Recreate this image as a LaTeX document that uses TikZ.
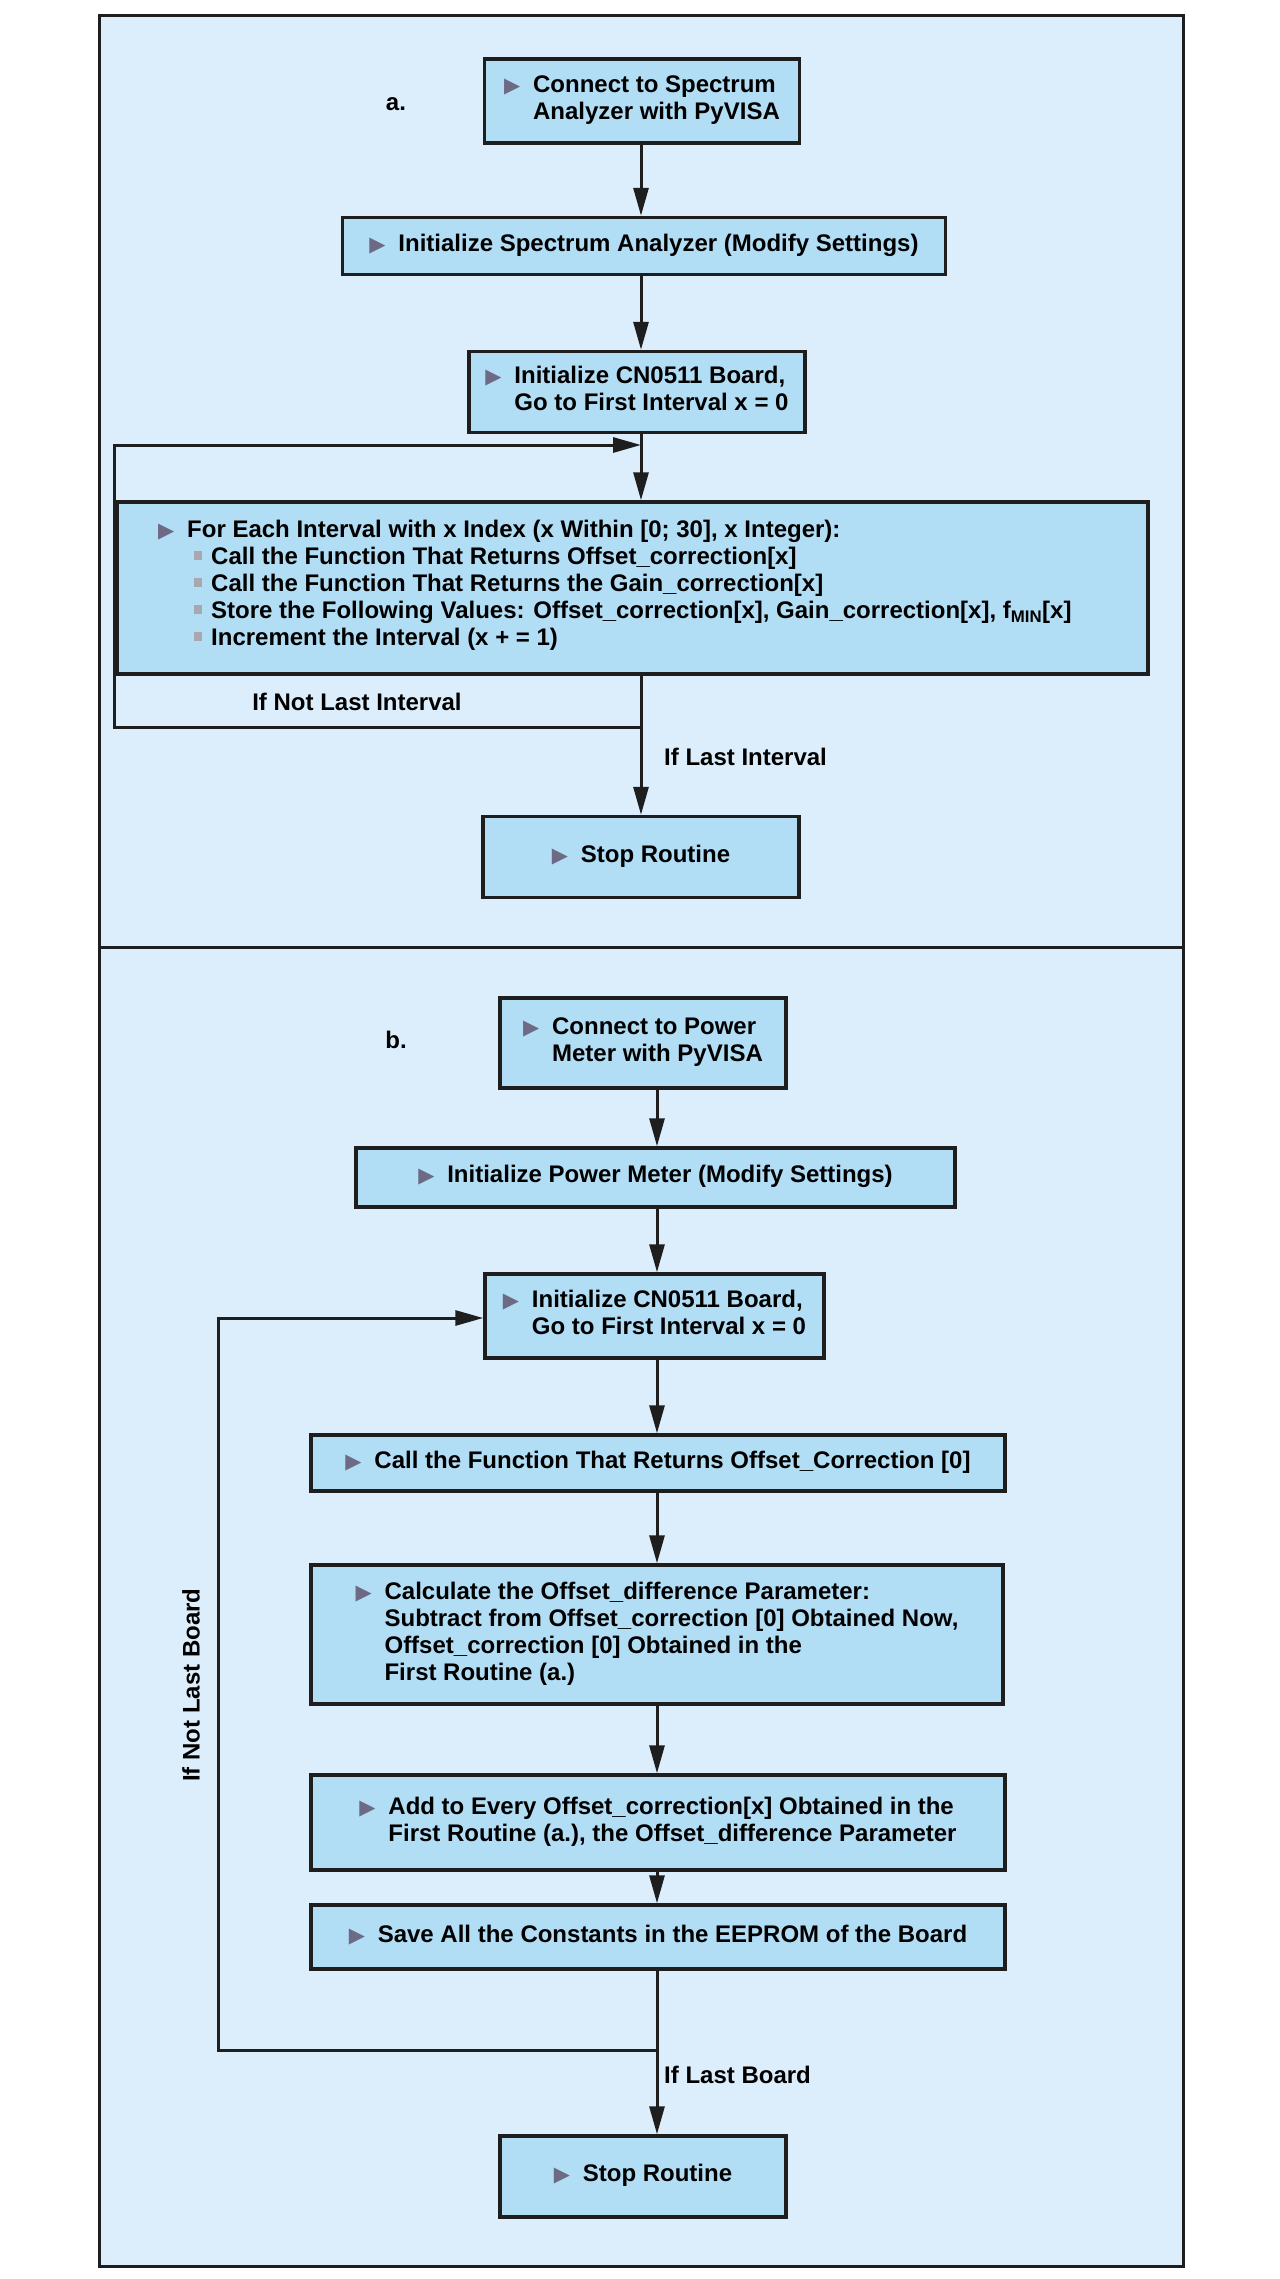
\documentclass[tikz,border=0pt]{standalone}
\usepackage{fontspec}
\setmainfont{Liberation Sans}
\newfontfamily\symf{DejaVu Sans}
\usetikzlibrary{arrows.meta}
\definecolor{bgc}{HTML}{DCEEFB}
\definecolor{boxc}{HTML}{B1DDF5}
\definecolor{linec}{HTML}{1E1E1E}
\definecolor{tric}{HTML}{6C6A84}
\definecolor{sqc}{HTML}{A8A8B0}
\newcommand{\tri}{\makebox[29pt][l]{\raisebox{0pt}{\textcolor{tric}{\symf\fontsize{21}{21}\selectfont ▶}}}}
\newcommand{\sqb}{\makebox[17pt][l]{\textcolor{sqc}{\rule[4pt]{8pt}{9pt}}}}
\newcommand{\items}[1]{\tri\begin{tabular}[t]{@{}l@{}}#1\end{tabular}}
\tikzset{
  fbox/.style={draw=linec, line width=3.5pt, fill=boxc, inner sep=0pt, text=black,
    font=\fontsize{24}{27}\selectfont\bfseries},
  txt/.style={inner sep=0pt, text=black, font=\fontsize{24}{27}\selectfont\bfseries},
  ln/.style={draw=linec, line width=3pt},
  arr/.style={draw=linec, line width=3pt, -{Triangle[length=28pt,width=15pt]}}
}
\begin{document}
\begin{tikzpicture}[x=1pt,y=-1pt]
\useasboundingbox[fill=white] (0,0) rectangle (1280,2279);
% frame
\draw[fill=bgc, draw=linec, line width=3pt] (99,15) rectangle (1183,2266);
\draw[ln] (99,947) -- (1183,947);
\coordinate (ta) at (641,0);
\coordinate (tb) at (657,0);
% ---------- part a ----------
\node[txt] (alab) at (396,104) {a.};
\node[fbox, minimum width=315pt, minimum height=84pt] (A1) at (642,101)
  {\items{Connect to Spectrum\\Analyzer with PyVISA}};
\node[fbox, minimum width=603pt, minimum height=57pt] (A2) at (644,246)
  {\items{Initialize Spectrum Analyzer (Modify Settings)}};
\node[fbox, minimum width=336pt, minimum height=81pt] (A3) at (637,392)
  {\items{Initialize CN0511 Board,\\Go to First Interval x = 0}};
\node[fbox, minimum width=1031pt, minimum height=172pt] (A4) at (632.5,588) {};
\node[txt, anchor=west] (A4t) at (158,586) {\begin{tabular}{@{}l@{}}
\tri For Each Interval with x Index (x Within [0; 30], x Integer):\\
\hspace{36pt}\sqb Call the Function That Returns Offset\_correction[x]\\
\hspace{36pt}\sqb Call the Function That Returns the Gain\_correction[x]\\
\hspace{36pt}\sqb Store the Following Values: Offset\_correction[x], Gain\_correction[x], f\textsubscript{MIN}[x]\\
\hspace{36pt}\sqb Increment the Interval (x + = 1)
\end{tabular}};
\node[fbox, minimum width=316pt, minimum height=81pt] (A5) at (641,857)
  {\items{Stop Routine}};
\draw[arr] (A1.south -| ta) -- (A2.north -| ta);
\draw[arr] (A2.south -| ta) -- (A3.north -| ta);
\draw[arr] (A3.south -| ta) -- (A4.north -| ta);
\draw[arr] (A4.south -| ta) -- (A5.north -| ta);
\coordinate (la1) at (641,727);
\coordinate (la2) at (114,727);
\coordinate (la3) at (114,445);
\coordinate (la4) at (641,445);
\draw[arr] (la1) -- (la2) -- (la3) -- (la4);
\node[txt] (lnl) at (357,702) {If Not Last Interval};
\node[txt, anchor=west] (ll) at (664,757) {If Last Interval};
% ---------- part b ----------
\node[txt] (blab) at (396,1040) {b.};
\node[fbox, minimum width=286pt, minimum height=90pt] (B1) at (643,1043)
  {\items{Connect to Power\\Meter with PyVISA}};
\node[fbox, minimum width=599pt, minimum height=59pt] (B2) at (655.5,1177.5)
  {\items{Initialize Power Meter (Modify Settings)}};
\node[fbox, minimum width=339pt, minimum height=84pt] (B3) at (654.5,1316)
  {\items{Initialize CN0511 Board,\\Go to First Interval x = 0}};
\node[fbox, minimum width=694pt, minimum height=56pt] (B4) at (658,1463)
  {\items{Call the Function That Returns Offset\_Correction [0]}};
\node[fbox, minimum width=692pt, minimum height=139pt] (B5) at (657,1634.5)
  {\items{Calculate the Offset\_difference Parameter:\\Subtract from Offset\_correction [0] Obtained Now,\\Offset\_correction [0] Obtained in the\\First Routine (a.)}};
\node[fbox, minimum width=694pt, minimum height=95pt] (B6) at (658,1822.5)
  {\items{Add to Every Offset\_correction[x] Obtained in the\\First Routine (a.), the Offset\_difference Parameter}};
\node[fbox, minimum width=694pt, minimum height=64pt] (B7) at (658,1937)
  {\items{Save All the Constants in the EEPROM of the Board}};
\node[fbox, minimum width=286pt, minimum height=81pt] (B8) at (643,2176.5)
  {\items{Stop Routine}};
\draw[arr] (B1.south -| tb) -- (B2.north -| tb);
\draw[arr] (B2.south -| tb) -- (B3.north -| tb);
\draw[arr] (B3.south -| tb) -- (B4.north -| tb);
\draw[arr] (B4.south -| tb) -- (B5.north -| tb);
\draw[arr] (B5.south -| tb) -- (B6.north -| tb);
\draw[arr] (B6.south -| tb) -- (B7.north -| tb);
\draw[arr] (B7.south -| tb) -- (B8.north -| tb);
\coordinate (lb1) at (657,2050);
\coordinate (lb2) at (218,2050);
\coordinate (lb3) at (218,1318);
\draw[arr] (lb1) -- (lb2) -- (lb3) -- (lb3 -| B3.west);
\node[txt, rotate=90] (lnb) at (191,1685) {If Not Last Board};
\node[txt, anchor=west] (lb) at (664,2075) {If Last Board};
\end{tikzpicture}
\end{document}
